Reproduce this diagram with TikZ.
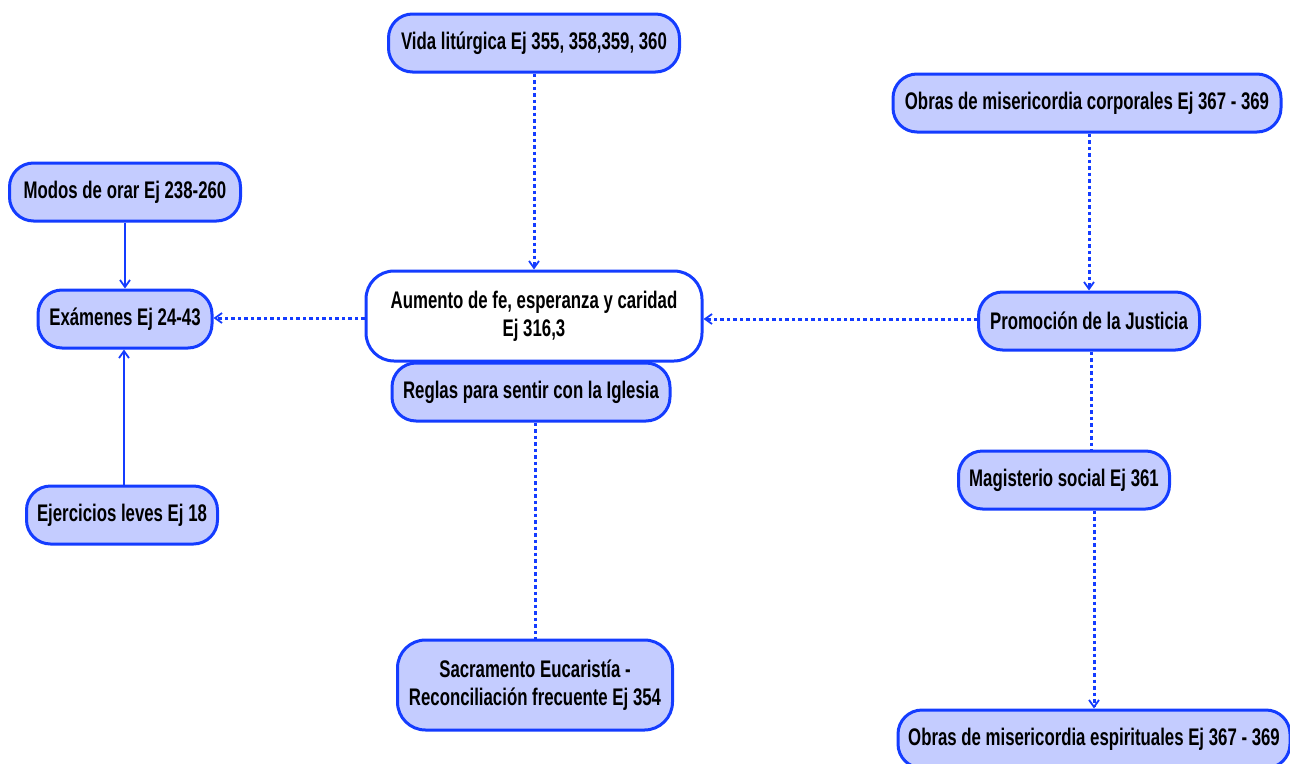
\documentclass[tikz,border=0pt]{standalone}
\usepackage{fontspec}
\setmainfont[FakeStretch=0.70]{Liberation Sans}
\usetikzlibrary{arrows.meta}
\definecolor{bord}{RGB}{20,60,255}
\definecolor{fillb}{RGB}{196,204,255}
\tikzset{
  box/.style={draw=bord, line width=3pt, fill=fillb, rounded corners=24pt,
    minimum height=58pt, inner sep=0pt, align=center, text=black,
    font=\bfseries\fontsize{24}{28}\selectfont},
  whitebox/.style={box, fill=white, minimum height=90pt, rounded corners=28pt},
  dotline/.style={draw=bord, line width=3pt, dash pattern=on 3.5pt off 3pt},
  solidline/.style={draw=bord, line width=2.6pt},
  tip/.style={-{Straight Barb[length=7pt,width=10pt,line width=1.8pt]}}
}
\begin{document}
\begin{tikzpicture}[x=1pt,y=-1pt]
\useasboundingbox (0,0) rectangle (1290,763);
\clip (0,0) rectangle (1290,763);
\node[box, minimum width=291pt] (vida) at (534,43) {Vida litúrgica Ej 355, 358,359, 360};
\node[box, minimum width=388pt] (corp) at (1087,103) {Obras de misericordia corporales Ej 367 - 369};
\node[box, minimum width=231pt] (modos) at (125,192) {Modos de orar Ej 238-260};
\node[box, minimum width=174pt] (exam) at (125,319) {Exámenes Ej 24-43};
\node[whitebox, minimum width=336pt] (aum) at (534,316) {Aumento de fe, esperanza y caridad\\Ej 316,3};
\node[box, minimum width=278pt] (reglas) at (531,392) {Reglas para sentir con la Iglesia};
\node[box, minimum width=221pt] (prom) at (1089,321) {Promoción de la Justicia};
\node[box, minimum width=211pt] (mag) at (1064,480) {Magisterio social Ej 361};
\node[box, minimum width=191pt] (ejer) at (122,515) {Ejercicios leves Ej 18};
\node[box, minimum width=275pt, minimum height=90pt, rounded corners=28pt] (sacr) at (535,685) {Sacramento Eucaristía -\\Reconciliación frecuente Ej 354};
\node[box, minimum width=392pt] (esp) at (1094,739) {Obras de misericordia espirituales Ej 367 - 369};

\draw[dotline, tip] (vida) -- (aum);
\draw[solidline, tip] (modos) -- (exam);
\draw[solidline, tip] (ejer.north -| 124,0) -- (exam.south -| 124,0);
\draw[dotline, tip] (aum.west |- 0,318) -- (exam.east |- 0,318);
\draw[dotline, tip] (prom.west |- 0,319) -- (aum.east |- 0,319);
\draw[dotline, tip] (corp.south -| prom) -- (prom.north);
\draw[dotline] (prom.south -| 1091,0) -- (mag.north -| 1091,0);
\draw[dotline, tip] (mag.south -| 1094,0) -- (esp.north -| 1094,0);
\draw[dotline] (reglas.south -| sacr) -- (sacr.north);
\end{tikzpicture}
\end{document}
